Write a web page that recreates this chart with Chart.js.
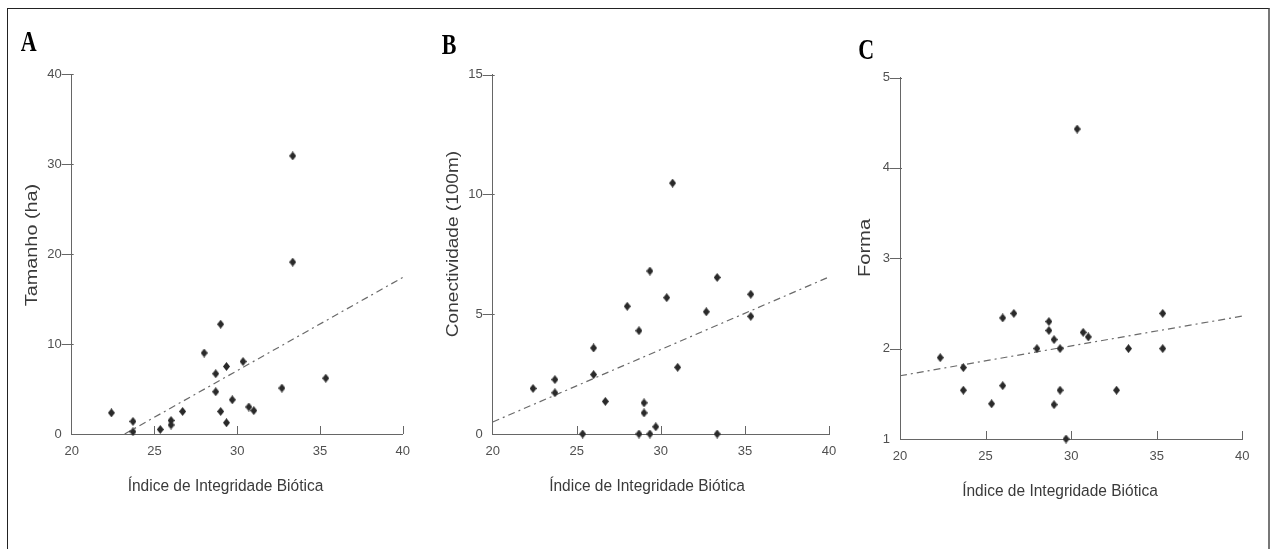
<!DOCTYPE html>
<html>
<head>
<meta charset="utf-8">
<script src="https://cdn.jsdelivr.net/npm/chart.js@4.4.1/dist/chart.umd.min.js"></script>
<style>
  html, body { margin: 0; padding: 0; background: #fff; overflow: hidden; }
  #frame { position: absolute; left: 7px; top: 8px; width: 1260px; height: 580px;
           border: 1px solid #222; border-right: 2px solid #777; border-bottom: none; }
  .panel { position: absolute; top: 9px; height: 540px; }
</style>
</head>
<body>
<div id="frame"></div>
<div class="panel" style="left:8px;width:412px"><canvas id="chartA"></canvas></div>
<div class="panel" style="left:420px;width:430px"><canvas id="chartB"></canvas></div>
<div class="panel" style="left:850px;width:418px"><canvas id="chartC"></canvas></div>
<script>
// Índice de Integridade Biótica (x) and response variables
const iibA = [22.4, 23.7, 23.7, 25.35, 26.0, 26.0, 26.7, 28.0, 28.7, 28.7, 29.0, 29.0, 29.35, 29.35, 29.7, 30.35, 30.7, 31.0, 32.7, 33.35, 33.35, 35.35];
const tamanho = [2.35, 1.4, 0.25, 0.5, 1.5, 1.0, 2.5, 9.0, 6.7, 4.7, 12.2, 2.5, 7.5, 1.25, 3.8, 8.05, 3.0, 2.6, 5.1, 30.9, 19.1, 6.2];

const iibB = [22.4, 23.7, 23.7, 25.35, 26.0, 26.0, 26.7, 28.0, 28.7, 28.7, 29.0, 29.0, 29.35, 29.35, 29.7, 30.35, 30.7, 31.0, 32.7, 33.35, 33.35, 35.35, 35.35];
const conectividade = [1.9, 2.27, 1.72, 0, 3.59, 2.48, 1.36, 5.33, 4.31, 0, 1.3, 0.88, 6.8, 0, 0.3, 5.69, 10.47, 2.78, 5.1, 6.53, 0, 5.83, 4.91];

const iibC = [22.35, 23.7, 23.7, 25.35, 26.0, 26.0, 26.65, 28.0, 28.7, 28.7, 29.0, 29.0, 29.35, 29.35, 29.7, 30.35, 30.7, 31.0, 32.65, 33.35, 35.35, 35.35];
const forma = [1.9, 1.79, 1.54, 1.39, 2.34, 1.59, 2.39, 2.0, 2.3, 2.2, 2.1, 1.38, 2.0, 1.54, 1.0, 4.43, 2.18, 2.13, 1.54, 2.0, 2.39, 2.0];

// fitted lines (end points)
const trendAx = [23.2, 40], trendAy = [0, 17.4];
const trendBx = [20, 40],   trendBy = [0.5, 6.55];
const trendCx = [20, 40],   trendCy = [1.7, 2.36];

// tick labels
const xTicks = [20, 25, 30, 35, 40];
const yTicksA = [0, 10, 20, 30, 40];
const yTicksB = [0, 5, 10, 15];
const yTicksC = [1, 2, 3, 4, 5];

const xTitle = 'Índice de Integridade Biótica';

// small diamond marker
const diamond = document.createElement('canvas');
diamond.width = 7; diamond.height = 9;
const dc = diamond.getContext('2d');
dc.fillStyle = '#2a2a2a';
dc.beginPath();
dc.moveTo(3.5, 0); dc.lineTo(7, 4.5); dc.lineTo(3.5, 9); dc.lineTo(0, 4.5);
dc.closePath(); dc.fill();

// inward axis ticks, panel letter and axis titles
const panelDeco = {
  id: 'panelDeco',
  afterDraw(chart, args, o) {
    const ctx = chart.ctx, a = chart.chartArea;
    const xs = chart.scales.x, ys = chart.scales.y;
    ctx.save();
    ctx.strokeStyle = '#666';
    ctx.lineWidth = 1;
    ctx.beginPath();
    ys.ticks.forEach((t, i) => {
      if (i === 0) return;
      const py = Math.round(ys.getPixelForTick(i)) + 0.5;
      ctx.moveTo(a.left - 10, py); ctx.lineTo(a.left + 2, py);
    });
    xs.ticks.forEach((t, i) => {
      if (i === 0) return;
      const px = Math.round(xs.getPixelForTick(i)) + 0.5;
      ctx.moveTo(px, a.bottom); ctx.lineTo(px, a.bottom - 8);
    });
    ctx.stroke();

    // letter
    ctx.fillStyle = '#000';
    ctx.font = 'bold 22px "Liberation Serif", "Times New Roman", serif';
    ctx.textAlign = 'left';
    ctx.textBaseline = 'alphabetic';
    ctx.save();
    ctx.translate(o.letterX - o.offX, o.letterY - o.offY);
    ctx.scale(1, 1.3);
    ctx.fillText(o.letter, 0, 0);
    ctx.restore();

    // x title
    ctx.fillStyle = '#3a3a3a';
    ctx.font = '15.5px "Liberation Sans", Arial, sans-serif';
    ctx.textAlign = 'center';
    ctx.save();
    ctx.translate(o.xTitleX - o.offX, o.xTitleY - o.offY);
    ctx.scale(1, 1.12);
    ctx.fillText(xTitle, 0, 0);
    ctx.restore();

    // y title
    ctx.save();
    ctx.translate(o.yTitleX - o.offX, o.yTitleY - o.offY);
    ctx.rotate(-Math.PI / 2);
    ctx.scale(o.yStretch, 1);
    ctx.font = '16px "Liberation Sans", Arial, sans-serif';
    ctx.textBaseline = 'middle';
    ctx.fillText(o.yTitle, 0, 0);
    ctx.restore();
    ctx.restore();
  }
};

function pts(xs, ys) {
  return xs.map((x, i) => ({ x: x, y: ys[i] }));
}

function buildChart(id, p) {
  const tickFont = { family: '"Liberation Sans", Arial, sans-serif', size: 13 };
  new Chart(document.getElementById(id), {
    type: 'scatter',
    data: {
      datasets: [
        {
          data: pts(p.xs, p.ys),
          pointStyle: diamond,
          pointRadius: 4,
          pointHoverRadius: 4,
          clip: false
        },
        {
          type: 'line',
          data: pts(p.tx, p.ty),
          borderColor: '#6a6a6a',
          borderWidth: 1.2,
          borderDash: [7, 4, 2, 4],
          pointRadius: 0,
          fill: false,
          clip: false
        }
      ]
    },
    options: {
      responsive: true,
      maintainAspectRatio: false,
      animation: false,
      events: [],
      layout: {
        padding: {
          top: p.area.top - p.box.y,
          left: 0,
          right: p.box.x + p.box.w - p.area.right,
          bottom: p.box.y + p.box.h - p.area.bottom - 40
        }
      },
      scales: {
        x: {
          type: 'linear',
          min: 20, max: 40,
          afterBuildTicks: s => { s.ticks = xTicks.map(v => ({ value: v })); },
          afterFit: s => { s.height = 40; },
          grid: { display: false, drawTicks: false },
          border: { display: true, color: '#666', width: 1 },
          ticks: { padding: 10, color: '#505050', font: tickFont, maxRotation: 0 }
        },
        y: {
          type: 'linear',
          min: p.yTicks[0], max: p.yTicks[p.yTicks.length - 1],
          afterBuildTicks: s => { s.ticks = p.yTicks.map(v => ({ value: v })); },
          afterFit: s => { s.width = p.area.left - p.box.x; },
          grid: { display: false, drawTicks: false },
          border: { display: true, color: '#666', width: 1 },
          ticks: { padding: 10, color: '#505050', font: tickFont }
        }
      },
      plugins: {
        legend: { display: false },
        tooltip: { enabled: false },
        panelDeco: Object.assign({ offX: p.box.x, offY: p.box.y }, p.deco)
      }
    },
    plugins: [panelDeco]
  });
}

function buildAll() {
  buildChart('chartA', {
    xs: iibA, ys: tamanho, tx: trendAx, ty: trendAy, yTicks: yTicksA,
    box: { x: 8, y: 9, w: 412, h: 540 },
    area: { left: 71.7, right: 408.3, top: 74, bottom: 434 },
    deco: { letter: 'A', letterX: 20.7, letterY: 51, xTitleX: 225.5, xTitleY: 491,
            yTitle: 'Tamanho (ha)', yTitleX: 33, yTitleY: 245, yStretch: 1.24 }
  });

  buildChart('chartB', {
    xs: iibB, ys: conectividade, tx: trendBx, ty: trendBy, yTicks: yTicksB,
    box: { x: 420, y: 9, w: 430, h: 540 },
    area: { left: 492.7, right: 829, top: 74.5, bottom: 434 },
    deco: { letter: 'B', letterX: 441.7, letterY: 54, xTitleX: 647, xTitleY: 491,
            yTitle: 'Conectividade (100m)', yTitleX: 454, yTitleY: 244, yStretch: 1.19 }
  });

  buildChart('chartC', {
    xs: iibC, ys: forma, tx: trendCx, ty: trendCy, yTicks: yTicksC,
    box: { x: 850, y: 9, w: 418, h: 540 },
    area: { left: 900, right: 1242.3, top: 77.5, bottom: 439 },
    deco: { letter: 'C', letterX: 858.3, letterY: 59, xTitleX: 1060, xTitleY: 496,
            yTitle: 'Forma', yTitleX: 866, yTitleY: 248, yStretch: 1.26 }
  });
}

Promise.all([
  document.fonts.load('bold 22px "Liberation Serif"'),
  document.fonts.load('16px "Liberation Sans"')
]).then(buildAll, buildAll);
</script>
</body>
</html>
